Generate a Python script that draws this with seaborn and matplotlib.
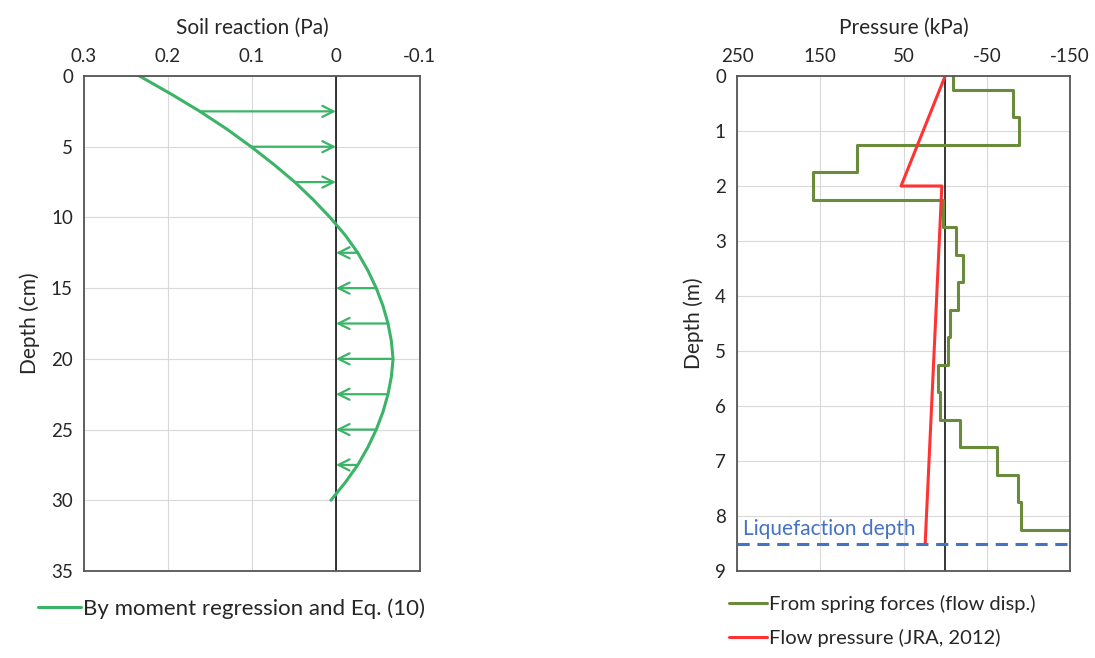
import numpy as np
import matplotlib
matplotlib.use("Agg")
import matplotlib.pyplot as plt
import seaborn as sns

# ---------- data ----------
# left panel: soil reaction curve (Pa) vs depth (cm)
curve_depth = [0, 1.25, 2.5, 3.75, 5, 6.25, 7.5, 8.75, 10, 11.25, 12.5, 13.75, 15,
               16.25, 17.5, 18.75, 20, 21.25, 22.5, 23.75, 25, 26.25, 27.5, 28.75, 30]
curve_react = [0.234, 0.197, 0.162, 0.130, 0.101, 0.074, 0.049, 0.027, 0.007, -0.011,
               -0.026, -0.038, -0.048, -0.056, -0.062, -0.066, -0.068, -0.066, -0.062,
               -0.056, -0.048, -0.038, -0.026, -0.011, 0.006]
arrow_depth = [2.5, 5, 7.5, 12.5, 15, 17.5, 20, 22.5, 25, 27.5]
arrow_react = [0.162, 0.101, 0.049, -0.026, -0.048, -0.062, -0.068, -0.062, -0.048, -0.026]

# right panel: spring-force pressure, one value per 0.5 m layer (kPa)
spring_depth = [0, 0.5, 1.0, 1.5, 2.0, 2.5, 3.0, 3.5, 4.0, 4.5, 5.0, 5.5, 6.0,
                6.5, 7.0, 7.5, 8.0]
spring_press = [-10, -81, -89, 106, 159, 3, -13, -22, -15, -6, -3, 9, 6,
                -18, -62, -87, -91]
spring_end_press = -160  # last step runs off the right edge

# flow pressure (JRA, 2012)
jra_depth = [0, 2, 2, 8.5]
jra_press = [0, 53, 4, 24]

liq_depth = 8.5

GREEN = "#3cb468"
OLIVE = "#6a8a3c"
RED = "#ff3333"
BLUE = "#4472c4"

sns.set_style("whitegrid")
plt.rcParams['font.family'] = ['Lato', 'DejaVu Sans']
plt.rcParams['axes.unicode_minus'] = False
plt.rcParams['axes.edgecolor'] = '#555555'
plt.rcParams['grid.color'] = '#d9d9d9'
plt.rcParams['text.color'] = '#262626'

fig = plt.figure(figsize=(10.95, 6.58), dpi=100)
ax1 = fig.add_axes([0.0767, 0.1322, 0.3068, 0.7523])
ax2 = fig.add_axes([0.6731, 0.1322, 0.3041, 0.7523])

# ---------- left: soil reaction ----------
sns.lineplot(x=curve_react, y=curve_depth, sort=False, estimator=None,
             color=GREEN, lw=2.2, ax=ax1, label="By moment regression and Eq. (10)")
for r, d in zip(arrow_react, arrow_depth):
    ax1.annotate("", xy=(0, d), xytext=(r, d),
                 arrowprops=dict(arrowstyle="->", color=GREEN, lw=1.6,
                                 mutation_scale=20, shrinkA=0, shrinkB=0))
ax1.axvline(0, color="black", lw=1.1, zorder=1)
ax1.set_xlim(0.3, -0.1)
ax1.set_ylim(35, 0)
ax1.set_xticks([0.3, 0.2, 0.1, 0, -0.1])
ax1.set_xticklabels(["0.3", "0.2", "0.1", "0", "-0.1"])
ax1.set_yticks(range(0, 36, 5))
ax1.xaxis.tick_top()
ax1.xaxis.set_label_position("top")
ax1.set_xlabel("Soil reaction (Pa)", fontsize=15, labelpad=10)
ax1.set_ylabel("Depth (cm)", fontsize=15, labelpad=8)
ax1.tick_params(labelsize=13.5, length=0, pad=8)
ax1.legend(loc="upper left", bbox_to_anchor=(-0.195, -0.015), frameon=False,
           fontsize=16, handlelength=1.9, handletextpad=0.1)

# ---------- right: pressure ----------
d = np.array(spring_depth)
p = np.array(spring_press)
top = np.clip(d - 0.25, 0, None)
bot = d + 0.25
step_y = np.column_stack([top, bot]).ravel()
step_x = np.repeat(p, 2)
step_y = np.append(step_y, bot[-1])
step_x = np.append(step_x, spring_end_press)
sns.lineplot(x=step_x, y=step_y, sort=False, estimator=None, color=OLIVE, lw=2.2,
             ax=ax2, label="From spring forces (flow disp.)")
sns.lineplot(x=jra_press, y=jra_depth, sort=False, estimator=None, color=RED, lw=2.2,
             ax=ax2, label="Flow pressure (JRA, 2012)")
ax2.axvline(0, color="black", lw=1.1, zorder=1)
ax2.axhline(liq_depth, color=BLUE, lw=2.2, ls=(0, (4, 2.5)), zorder=3)
ax2.text(243, liq_depth - 0.08, "Liquefaction depth", color=BLUE, fontsize=15,
         ha="left", va="bottom")
ax2.set_xlim(250, -150)
ax2.set_ylim(9, 0)
ax2.set_xticks([250, 150, 50, -50, -150])
ax2.set_yticks(range(0, 10))
ax2.xaxis.tick_top()
ax2.xaxis.set_label_position("top")
ax2.set_xlabel("Pressure (kPa)", fontsize=15, labelpad=10)
ax2.set_ylabel("Depth (m)", fontsize=15, labelpad=8)
ax2.tick_params(labelsize=13.5, length=0, pad=8)
ax2.legend(loc="upper left", bbox_to_anchor=(-0.08, -0.012), frameon=False,
           fontsize=14.5, handlelength=1.9, handletextpad=0.1, labelspacing=0.8)

for ax in (ax1, ax2):
    for s in ax.spines.values():
        s.set_linewidth(1.3)
        s.set_color('#555555')

plt.savefig("out.png", dpi=100)
